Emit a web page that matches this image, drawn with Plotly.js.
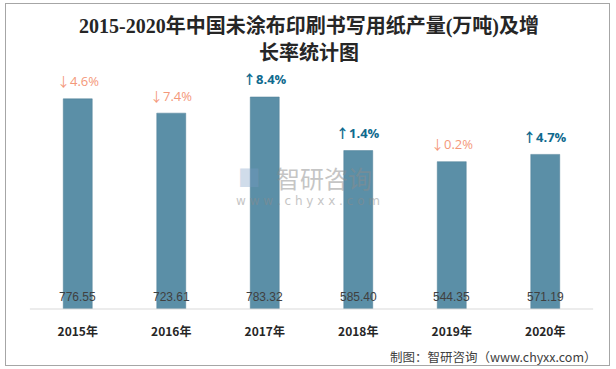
<!DOCTYPE html>
<html><head><meta charset="utf-8">
<script src="https://cdn.plot.ly/plotly-3.0.1.min.js"></script>
<style>
html,body{margin:0;padding:0;background:#fff;}
#wrap{position:relative;width:616px;height:369px;}
#frame{position:absolute;left:5px;top:3px;width:605px;height:363px;border:1px solid #A6A6A6;box-sizing:border-box;pointer-events:none;z-index:5;}
#chart{position:absolute;left:0;top:0;width:616px;height:369px;}
</style></head>
<body><div id="wrap"><div id="chart"></div><div id="frame"></div></div>
<script>
const years = ["2015年","2016年","2017年","2018年","2019年","2020年"];
const output = [776.55, 723.61, 783.32, 585.40, 544.35, 571.19];
const growthArrow = ["↓","↓","↑","↑","↓","↑"];
const growthPct = ["4.6%","7.4%","8.4%","1.4%","0.2%","4.7%"];

const upColor = "#0F6A8E", downColor = "#F4987A";

const bar = {
  type: "bar", x: years, y: output,
  width: 0.31,
  marker: {color: "#5B8FA7", line: {color: "#4F7F96", width: 0.5}},
  hoverinfo: "skip"
};

const annotations = [];
years.forEach((c, i) => {
  const up = growthArrow[i] === "↑";
  const arrow = '<span style="font-family:Noto Sans CJK SC">' + growthArrow[i] + '</span>';
  annotations.push({
    x: c, y: output[i], xref: "x", yref: "y",
    text: up ? "<b>" + arrow + growthPct[i] + "</b>" : arrow + growthPct[i],
    showarrow: false, yanchor: "middle", yshift: 18,
    font: {family: "Open Sans, Liberation Sans, sans-serif", size: 13,
           color: up ? upColor : downColor}
  });
  annotations.push({
    x: c, y: 0, xref: "x", yref: "y",
    text: output[i].toFixed(2),
    showarrow: false, yanchor: "middle", yshift: 12,
    font: {family: "Liberation Sans, Arial, sans-serif", size: 12, color: "#404040"}
  });
});

annotations.push(
  {xref:"paper", yref:"paper", x:0.495, y:1.0, yshift:44, yanchor:"middle", showarrow:false,
   text:"2015-2020年中国未涂布印刷书写用纸产量(万吨)及增",
   font:{family:"Liberation Serif, Noto Sans CJK SC, serif", size:20, color:"#262626", weight:600}},
  {xref:"paper", yref:"paper", x:0.495, y:1.0, yshift:18, yanchor:"middle", showarrow:false,
   text:"长率统计图",
   font:{family:"Liberation Serif, Noto Sans CJK SC, serif", size:20, color:"#262626", weight:600}},
  {xref:"paper", yref:"paper", x:1.0125, y:0, yshift:-47, xanchor:"right", yanchor:"middle", showarrow:false,
   text:"制图：智研咨询（www.chyxx.com）",
   font:{family:"Noto Sans CJK SC, sans-serif", size:12.5, color:"#404040"}},
  {xref:"paper", yref:"paper", x:0.5214, y:0.552, xanchor:"center", yanchor:"middle", showarrow:false,
   text:"智研咨询", opacity:0.5,
   font:{family:"Noto Sans CJK SC, sans-serif", size:24, color:"#8C8C8C"}},
  {xref:"paper", yref:"paper", x:0.4929, y:0.452, xanchor:"center", yanchor:"middle", showarrow:false,
   text:"w w w . c h y x x . c o m", opacity:0.5,
   font:{family:"DejaVu Sans, sans-serif", size:12, color:"#8C8C8C"}},
  {xref:"paper", yref:"paper", x:0.39, y:0.556, xanchor:"center", yanchor:"middle", showarrow:false,
   text:"■", opacity:0.35,
   font:{family:"DejaVu Sans, sans-serif", size:24, color:"#7A9CC6"}}
);

const layout = {
  width: 616, height: 369,
  margin: {l: 31, r: 24, t: 70, b: 60},
  paper_bgcolor: "#fff", plot_bgcolor: "#fff",
  showlegend: false,
  xaxis: {type: "category", showline: false, showgrid: false, zeroline: false,
          ticks: "", ticklabelstandoff: 14,
          tickfont: {family: "Noto Sans CJK SC, sans-serif", size: 12, color: "#262626", weight: "bold"}},
  yaxis: {range: [0, 883], visible: false, showgrid: false, zeroline: false},
  shapes: [{type: "line", xref: "paper", yref: "paper", x0: -0.002, x1: 1.002, y0: 0, y1: 0,
            line: {color: "#D9D9D9", width: 1}}],
  annotations: annotations
};

Plotly.newPlot("chart", [bar], layout, {displayModeBar: false, staticPlot: true});
</script></body></html>
